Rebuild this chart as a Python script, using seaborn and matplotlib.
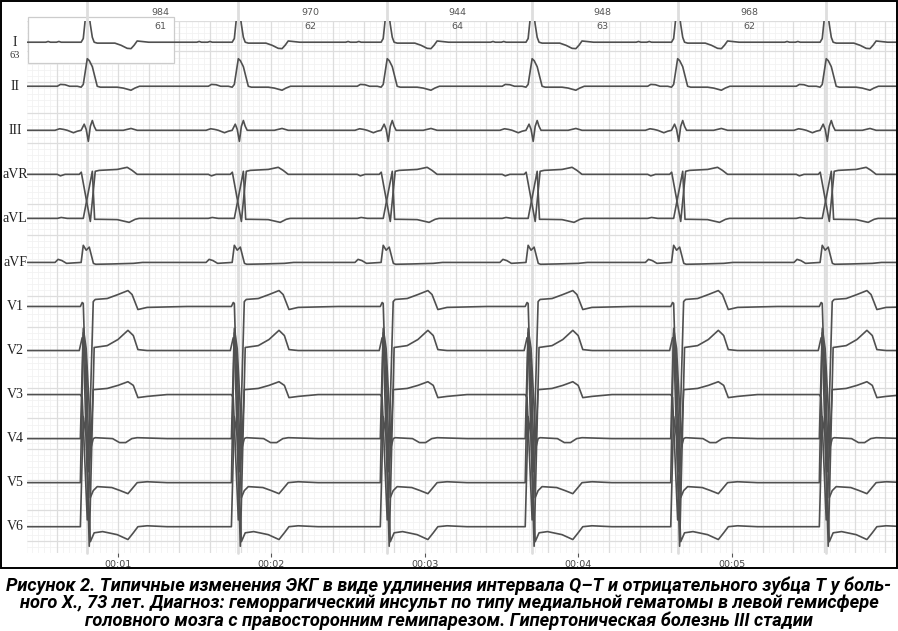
import numpy as np
import pandas as pd
import matplotlib
matplotlib.use("Agg")
import matplotlib.pyplot as plt
from matplotlib import font_manager
from matplotlib.patches import Rectangle
import seaborn as sns

# ---------------- data ----------------
leads = ["I", "II", "III", "aVR", "aVL", "aVF", "V1", "V2", "V3", "V4", "V5", "V6"]
rr_ms = [984, 970, 944, 948, 968]
hr_bpm = [61, 62, 64, 63, 62]
mean_hr = "63"
first_r_s = 0.80
time_ticks_s = [1, 2, 3, 4, 5]
time_labels = ["00:01", "00:02", "00:03", "00:04", "00:05"]

# beat templates: time from R peak (ms) and amplitude (mm, 10 mm = 1 mV)
I_t = [-270, -255, -240, -200, -185, -170, -40, -26, -7, 0, 7, 20, 33, 45, 65, 180, 220, 260, 285, 305, 325, 360, 400]
I_a = [0, 0.12, 0, 0, 0.12, 0, 0, 0.6, 5.2, 5.7, 5.4, 2.9, 0.8, 0, -0.15, -0.15, -0.5, -1.0, -1.05, -0.5, 0.2, 0.1, 0]
II_t = [-195, -175, -145, -115, -65, -40, -26, 0, 13, 33, 45, 65, 85, 195, 235, 285, 310, 340]
II_a = [0, 0.3, 0.25, 0, 0, -0.15, 0.3, 4.5, 4.2, 3.2, 2.0, 0, -0.15, -0.15, -0.3, -0.65, -0.3, 0]
III_t = [-210, -180, -155, -130, -90, -65, -40, -20, -7, 7, 20, 33, 45, 58, 235, 285, 325]
III_a = [0, 0.25, 0.15, 0, -0.4, -0.15, 0, 1.0, 0.15, -1.8, 0.65, 1.6, 0.65, 0, 0, 0.3, 0]
aVR_t = [-195, -175, -145, -52, -39, 20, 52, 78, 195, 260, 292, 325, 390]
aVR_a = [0, -0.25, 0, 0, 0.35, -7.7, 0.5, 0.65, 0.8, 1.15, 0.65, 0, 0]
aVL_t = [-195, -170, -130, -26, 33, 48, 78, 195, 273, 312, 338]
aVL_a = [0, 0.15, 0, 0, 7.7, -0.15, -0.15, -0.2, -0.65, -0.15, 0]
aVF_t = [-210, -190, -165, -135, -40, -26, -7, 13, 40, 55, 160, 300, 360]
aVF_a = [0, 0.5, 0.3, -0.15, 0, 2.8, 2.0, 2.5, -0.15, -0.3, -0.25, -0.15, 0]
V1_t = [-45, -33, -26, 7, 39, 52, 130, 200, 265, 292, 330, 390, 650]
V1_a = [0, 0.65, 0.5, -27, 0.8, 1.15, 1.3, 1.95, 2.6, 1.95, -0.5, -0.15, 0]
V2_t = [-52, -33, -26, 13, 45, 130, 200, 265, 300, 330, 390]
V2_a = [0, 2.1, 2.0, -32, 0.5, 0.8, 1.8, 3.3, 2.45, 0.15, 0]
V3_t = [-45, -33, 0, 39, 130, 200, 265, 300, 330, 390, 520]
V3_a = [0, -0.5, -20.5, 0.8, 1.0, 1.5, 2.1, 1.5, -0.5, -0.3, 0]
V4_t = [-45, -26, -7, 26, 39, 52, 165, 210, 250, 290, 325, 520]
V4_a = [0, 18, 14.7, -1.3, 0, 0.15, 0, -0.65, -0.65, 0, 0.15, 0]
V5_t = [-45, -26, -7, 20, 39, 65, 160, 215, 265, 292, 325, 390, 520]
V5_a = [0, 24.5, 19.6, -2.45, -1.3, -0.65, -0.8, -1.3, -1.8, -1.0, 0, 0.15, 0]
V6_t = [-45, -26, -7, 20, 45, 100, 195, 265, 300, 330, 390, 520]
V6_a = [0, 18, 14.7, -2.45, -1.0, -0.8, -1.3, -2.1, -1.0, 0, 0.15, 0]

templates = {
    "I": (I_t, I_a), "II": (II_t, II_a), "III": (III_t, III_a),
    "aVR": (aVR_t, aVR_a), "aVL": (aVL_t, aVL_a), "aVF": (aVF_t, aVF_a),
    "V1": (V1_t, V1_a), "V2": (V2_t, V2_a), "V3": (V3_t, V3_a),
    "V4": (V4_t, V4_a), "V5": (V5_t, V5_a), "V6": (V6_t, V6_a),
}

caption = [
    "Рисунок 2. Типичные изменения ЭКГ в виде удлинения интервала Q–T и отрицательного зубца Т у боль-",
    "ного Х., 73 лет. Диагноз: геморрагический инсульт по типу медиальной гематомы в левой гемисфере",
    "головного мозга с правосторонним гемипарезом. Гипертоническая болезнь III стадии",
]

# ---------------- layout ----------------
W, H = 898, 631
XMIN, XMAX = 0.41, 6.075
YMIN, YMAX = -2.0, 85.0
row_top, row_step = 81.5, 7.2

sns.set_style("white")
plt.rcParams["font.family"] = ["DejaVu Sans"]

fig = plt.figure(figsize=(W / 100, H / 100), dpi=100)
ax_l, ax_r = 27.4, 897.0
ax_t, ax_b = 20.8, 553.0
ax = fig.add_axes([ax_l / W, 1 - ax_b / H, (ax_r - ax_l) / W, (ax_b - ax_t) / H])
ax.set_xlim(XMIN, XMAX)
ax.set_ylim(YMIN, YMAX)
for s in ax.spines.values():
    s.set_visible(False)

# ECG paper grid
ax.vlines(np.arange(XMIN - 0.01, XMAX, 0.04), YMIN, YMAX, color="#f2f2f2", lw=0.6, zorder=0.2)
ax.hlines(np.arange(YMIN, YMAX + 0.01, 1.0), XMIN, XMAX, color="#f2f2f2", lw=0.6, zorder=0.2)
ax.vlines(np.arange(0.4, XMAX, 0.2), YMIN, YMAX, color="#dddddd", lw=0.9, zorder=0.3)
ax.hlines(np.arange(0, YMAX + 0.01, 5.0), XMIN, XMAX, color="#dddddd", lw=0.9, zorder=0.3)

# R peak times
r_times = [first_r_s]
for rr in rr_ms:
    r_times.append(r_times[-1] + rr / 1000.0)

# info box at top left
ax.add_patch(Rectangle((0.414, 78.1), 1.365 - 0.414, 85.6 - 78.1, facecolor="white",
                       edgecolor="#cccccc", lw=0.9, zorder=0.5, clip_on=False))

# beat marker lines
for r in r_times:
    ax.axvline(r, ymin=0, ymax=(ax_b - 0) / (ax_b - ax_t), color="#dedede", lw=2.0,
               zorder=0.6, clip_on=False)

# traces
for i, lead in enumerate(leads):
    base = row_top - row_step * i
    tt, aa = templates[lead]
    xs, ys = [XMIN], [base]
    for r in r_times:
        for t, a in zip(tt, aa):
            xs.append(r + t / 1000.0)
            ys.append(base + a)
    xs.append(6.5)
    ys.append(base)
    df = pd.DataFrame({"t": xs, "v": ys})
    sns.lineplot(data=df, x="t", y="v", sort=False, estimator=None, ax=ax,
                 color="#505050", lw=1.2, zorder=3)
    ax.text(0.33, base, lead, ha="center", va="center", fontsize=10,
            family=["Liberation Serif", "DejaVu Serif"], color="#222222", clip_on=False)

ax.text(0.33, 79.4, mean_hr, ha="center", va="center", fontsize=7.5,
        family=["Liberation Serif", "DejaVu Serif"], color="#333333", clip_on=False)

# RR / HR annotations
for k in range(len(rr_ms)):
    xm = (r_times[k] + r_times[k + 1]) / 2 - 0.015
    ax.text(xm, 86.4, str(rr_ms[k]), ha="center", va="center", fontsize=6.8,
            color="#555555", clip_on=False)
    ax.text(xm, 84.0, str(hr_bpm[k]), ha="center", va="center", fontsize=6.8,
            color="#555555", clip_on=False)

ax.set_xticks(time_ticks_s)
ax.set_xticklabels(time_labels)
ax.set_yticks([])
ax.set_xlabel("")
ax.set_ylabel("")
ax.tick_params(axis="x", direction="out", length=3, width=0.8, color="#555555",
               labelsize=6.8, labelcolor="#444444", pad=2, bottom=True)

# outer frame
fig.add_artist(Rectangle((0.6 / W, 1 - 568 / H), 896.6 / W, 567.4 / H, transform=fig.transFigure,
                         fill=False, edgecolor="black", lw=1.4))

# caption font choice
def have(name):
    try:
        font_manager.findfont(font_manager.FontProperties(family=name), fallback_to_default=False)
        return True
    except Exception:
        return False

cap_family = "Liberation Sans Narrow" if have("Liberation Sans Narrow") else "Roboto"
cap_y = [586, 603.5, 621]
texts = []
for line, yp in zip(caption, cap_y):
    texts.append(fig.text(0.5, 1 - yp / H, line, ha="center", va="center", fontsize=11.5,
                          weight="bold", style="italic", family=[cap_family, "DejaVu Sans"],
                          color="black"))
fig.canvas.draw()
w0 = texts[0].get_window_extent().width
scale = 888.0 / w0
for t in texts:
    t.set_fontsize(11.5 * scale)

fig.savefig("out.png", dpi=100)
